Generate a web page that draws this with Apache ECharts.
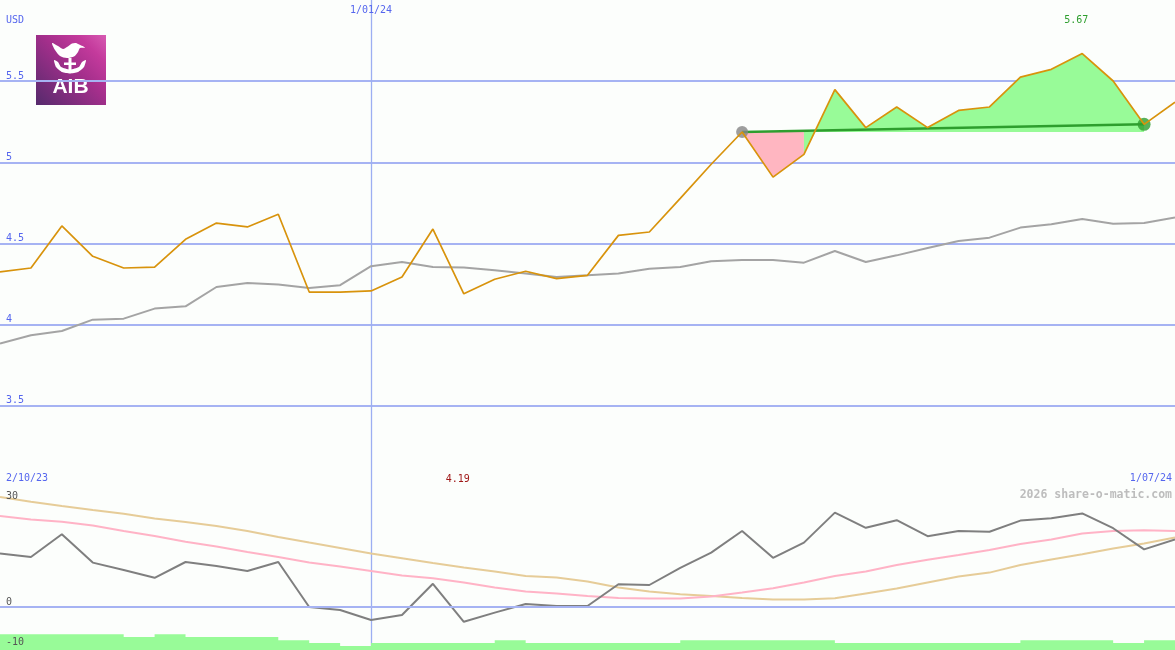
<!DOCTYPE html>
<html><head><meta charset="utf-8">
<script src="https://cdn.jsdelivr.net/npm/echarts@6/dist/echarts.min.js"></script>
<style>html,body{margin:0;padding:0;background:#fcfefc}#c{width:1175px;height:650px}</style>
</head><body><div id="c"></div>
<script>
// ---- data ----
const dates = ['9/10/23','16/10/23','23/10/23','30/10/23','6/11/23','13/11/23','20/11/23','27/11/23','4/12/23','11/12/23','18/12/23','25/12/23','1/01/24','8/01/24','15/01/24','22/01/24','29/01/24','5/02/24','12/02/24','19/02/24','26/02/24','4/03/24','11/03/24','18/03/24','25/03/24','1/04/24','8/04/24','15/04/24','22/04/24','29/04/24','6/05/24','13/05/24','20/05/24','27/05/24','3/06/24','10/06/24','17/06/24','24/06/24','1/07/24'];
const price = [4.325,4.349,4.608,4.421,4.349,4.355,4.526,4.626,4.602,4.680,4.201,4.201,4.208,4.294,4.589,4.190,4.280,4.329,4.284,4.304,4.550,4.571,4.778,4.988,5.187,4.909,5.049,5.448,5.214,5.341,5.214,5.320,5.341,5.525,5.573,5.670,5.501,5.234,5.371];
const priceMA = [3.884,3.935,3.961,4.031,4.037,4.099,4.113,4.232,4.257,4.247,4.226,4.243,4.360,4.386,4.355,4.352,4.335,4.315,4.294,4.304,4.315,4.345,4.355,4.390,4.398,4.398,4.382,4.454,4.386,4.427,4.472,4.515,4.536,4.598,4.618,4.651,4.622,4.626,4.660];
const oscillator = [13.4,12.5,18.2,11.1,9.25,7.3,11.25,10.25,9.0,11.25,0,-0.75,-3.25,-2.0,5.8,-3.7,-1.4,0.75,0.25,0.25,5.7,5.5,9.8,13.6,19.0,12.3,16.1,23.6,19.8,21.7,17.7,19.0,18.8,21.6,22.2,23.4,19.7,14.4,16.9];
const oscFast = [22.75,21.9,21.3,20.4,19.0,17.75,16.3,15.1,13.75,12.5,11.1,10.1,9.0,7.9,7.2,6.1,4.85,3.85,3.4,2.75,2.25,2.1,2.1,2.6,3.6,4.7,6.1,7.75,8.9,10.5,11.8,13.0,14.25,15.75,16.85,18.4,19.0,19.2,19.0];
const oscSlow = [27.5,26.3,25.25,24.25,23.3,22.1,21.25,20.25,19.0,17.5,16.1,14.75,13.4,12.2,11.0,9.85,8.85,7.75,7.35,6.35,4.85,3.85,3.2,2.75,2.25,1.9,1.9,2.2,3.4,4.6,6.1,7.6,8.6,10.5,11.9,13.2,14.6,15.9,17.35];
const volumeBars = [-6.8,-6.8,-6.8,-6.8,-7.5,-6.8,-7.5,-7.5,-7.5,-8.3,-9.0,-9.75,-9.0,-9.0,-9.0,-9.0,-8.3,-9.0,-9.0,-9.0,-9.0,-9.0,-8.3,-8.3,-8.3,-8.3,-8.3,-9.0,-9.0,-9.0,-9.0,-9.0,-9.0,-8.3,-8.3,-8.3,-9.0,-8.3,-8.3];
const priceTicks = [3.5, 4, 4.5, 5, 5.5];
const oscTicksBelow = [0, -10];
const oscTicksTop = [30];
const markDate = '1/01/24';
const rangeLabels = ['2/10/23', '1/07/24'];
const currency = 'USD';
const watermark = '2026 share-o-matic.com';
const signalStart = 24, signalSplit = 26, signalEnd = 37;

// ---- derived ----
const markIdx = dates.indexOf(markDate);
const baseLevel = price[signalStart];
const pinkFill = price.map((v,i)=> (i>=signalStart && i<=signalSplit) ? v : null);
const greenFill = price.map((v,i)=> (i>=signalSplit && i<=signalEnd) ? v : null);
const signalLine = price.map((v,i)=> (i===signalStart || i===signalEnd) ? v : null);
let maxIdx = 0, minIdx = 0;
price.forEach((v,i)=>{ if (v>price[maxIdx]) maxIdx=i; if (v<price[minIdx]) minIdx=i; });

const font = 'DejaVu Sans Mono';
const blue = '#5566ee';
const gridBlue = '#a6b3f3';
const labelInterval = (i)=> i === markIdx;

const chart = echarts.init(document.getElementById('c'));
chart.setOption({
  backgroundColor: '#fcfefc',
  animation: false,
  grid: [
    {left: 0, right: 0, top: 0, height: 487},
    {left: 0, right: 0, top: 487, height: 163}
  ],
  xAxis: [
    {gridIndex: 0, type: 'category', data: dates, boundaryGap: false, position: 'top',
     axisLine: {show: false}, axisTick: {show: false},
     axisLabel: {inside: true, interval: labelInterval, color: blue, fontFamily: font, fontSize: 10, margin: 5, verticalAlign: 'top'},
     splitLine: {show: true, interval: labelInterval, lineStyle: {color: '#9caef2', width: 1.3}}},
    {gridIndex: 1, type: 'category', data: dates, boundaryGap: false, position: 'top',
     axisLine: {show: true, lineStyle: {color: '#7383f0', width: 2}}, axisTick: {show: false},
     axisLabel: {show: false},
     splitLine: {show: true, interval: labelInterval, lineStyle: {color: '#9caef2', width: 1.3}}}
  ],
  yAxis: [
    {gridIndex: 0, type: 'value', min: 3, max: 6, interval: 0.5,
     axisLine: {show: false}, axisTick: {show: false},
     axisLabel: {inside: true, margin: 6, verticalAlign: 'bottom', color: blue, fontFamily: font, fontSize: 10,
       formatter: v => priceTicks.includes(v) ? String(v) : ''},
     splitLine: {show: true, showMinLine: false, showMaxLine: false, lineStyle: {color: gridBlue, width: 2}}},
    {gridIndex: 1, type: 'value', position: 'left', min: -10.75, max: 30, z: 20,
     axisLine: {show: false}, axisTick: {show: false}, splitLine: {show: false},
     axisLabel: {inside: true, margin: 6, verticalAlign: 'bottom', color: '#555', fontFamily: font, fontSize: 10,
       customValues: oscTicksBelow, hideOverlap: false,
       formatter: v => oscTicksBelow.includes(v) ? String(v) : ''}},
    {gridIndex: 1, type: 'value', position: 'left', offset: 0, min: -10.75, max: 30, z: 20,
     axisLine: {show: false}, axisTick: {show: false}, splitLine: {show: false},
     axisLabel: {inside: true, margin: 6, verticalAlign: 'top', padding: [4,0,0,0], color: '#555', fontFamily: font, fontSize: 10,
       showMaxLabel: true,
       formatter: v => oscTicksTop.includes(v) ? String(v) : ''}}
  ],
  graphic: [
    {type: 'text', left: 6, top: 15, style: {text: currency, fill: blue, font: '10px "DejaVu Sans Mono"'}},
    {type: 'text', left: 6, top: 473, style: {text: rangeLabels[0], fill: blue, font: '10px "DejaVu Sans Mono"'}},
    {type: 'text', right: 3, top: 473, style: {text: rangeLabels[1], fill: blue, font: '10px "DejaVu Sans Mono"'}},
    {type: 'text', right: 3, top: 489, z: 50, style: {text: watermark, fill: '#bdbdbd', font: 'bold 11.5px "DejaVu Sans Mono"'}},
    {type: 'group', left: 36, top: 35, z: 60, children: [
      {type: 'rect', shape: {x: 0, y: 0, width: 70, height: 70},
       style: {fill: new echarts.graphic.LinearGradient(0, 1, 1, 0, [
         {offset: 0, color: '#552a6c'}, {offset: 0.55, color: '#a52f8c'}, {offset: 0.8, color: '#c43a9c'}, {offset: 1, color: '#d75bb2'}])}},
      {type: 'polygon', shape: {smooth: 0.3, points: [[16,8],[22,11],[27,14],[31,12],[36,8.5],[40,8],[43,9.5],[49,12.5],[44,13],[42,17],[38,21.5],[31,23],[24,21],[19,15]]}, style: {fill: '#fff'}},
      {type: 'polygon', shape: {smooth: 0.2, points: [[18,25],[20,32],[26,37],[34,38.5],[42,37],[48,32],[50,25],[46,27],[43,32],[34,34.5],[25,32],[22,27]]}, style: {fill: '#fff'}},
      {type: 'rect', shape: {x: 32.5, y: 23, width: 3, height: 12}, style: {fill: '#fff'}},
      {type: 'rect', shape: {x: 28, y: 27.5, width: 12, height: 2.5}, style: {fill: '#fff'}},
      {type: 'text', style: {text: 'AIB', x: 34.5, y: 52, fill: '#fff', font: 'bold 21px "Liberation Sans"', align: 'center', verticalAlign: 'middle', textAlign: 'center', textVerticalAlign: 'middle'}}
    ]}
  ],
  series: [
    {type: 'line', xAxisIndex: 0, yAxisIndex: 0, data: pinkFill, symbol: 'none', silent: true, z: 2,
     lineStyle: {width: 0, color: '#ffb6c1'}, areaStyle: {color: '#ffb6c1', opacity: 1, origin: baseLevel}},
    {type: 'line', xAxisIndex: 0, yAxisIndex: 0, data: greenFill, symbol: 'none', silent: true, z: 2,
     lineStyle: {width: 0, color: '#98fb98'}, areaStyle: {color: '#98fb98', opacity: 1, origin: baseLevel}},
    {type: 'line', xAxisIndex: 0, yAxisIndex: 0, data: priceMA, symbol: 'none', silent: true, z: 3,
     lineStyle: {width: 2, color: '#a4a4a4'}},
    {type: 'line', xAxisIndex: 0, yAxisIndex: 0, data: signalLine, connectNulls: true, symbol: 'none', silent: true, z: 4,
     lineStyle: {width: 2.5, color: '#2e9e2e'}},
    {type: 'scatter', xAxisIndex: 0, yAxisIndex: 0, silent: true, z: 5,
     data: [
       {value: [signalStart, price[signalStart]], symbolSize: 12, itemStyle: {color: '#858585'}},
       {value: [signalEnd, price[signalEnd]], symbolSize: 13, itemStyle: {color: '#2e9e2e'}}
     ]},
    {type: 'line', xAxisIndex: 0, yAxisIndex: 0, data: price, symbol: 'none', silent: true, z: 6,
     lineStyle: {width: 1.7, color: '#d8930c'},
     markPoint: {symbol: 'circle', symbolSize: 0, silent: true,
       label: {show: true, position: 'inside', fontFamily: font, fontSize: 10, formatter: p => p.value},
       data: [
         {coord: [maxIdx, 6], value: price[maxIdx].toFixed(2), label: {offset: [-6, 20], color: '#2e9e2e'}},
         {coord: [minIdx, 3], value: price[minIdx].toFixed(2), label: {offset: [-6, -8], color: '#a01818'}}
       ]}},
    {type: 'line', xAxisIndex: 1, yAxisIndex: 1, data: volumeBars, step: 'end', symbol: 'none', silent: true, z: 1,
     lineStyle: {width: 0, color: '#98fb98'}, areaStyle: {color: '#98fb98', opacity: 1, origin: 'start'}},
    {type: 'line', xAxisIndex: 1, yAxisIndex: 1, data: oscSlow, symbol: 'none', silent: true, z: 3,
     lineStyle: {width: 2, color: '#e6cc98'}},
    {type: 'line', xAxisIndex: 1, yAxisIndex: 1, data: oscFast, symbol: 'none', silent: true, z: 3,
     lineStyle: {width: 2, color: '#ffb3c6'}},
    {type: 'line', xAxisIndex: 1, yAxisIndex: 1, data: oscillator, symbol: 'none', silent: true, z: 4,
     lineStyle: {width: 2, color: '#7f7f7f'},
     markLine: {silent: true, symbol: 'none', label: {show: false}, lineStyle: {color: gridBlue, width: 2, type: 'solid'},
       data: [{yAxis: 0}]}}
  ]
});
</script></body></html>
